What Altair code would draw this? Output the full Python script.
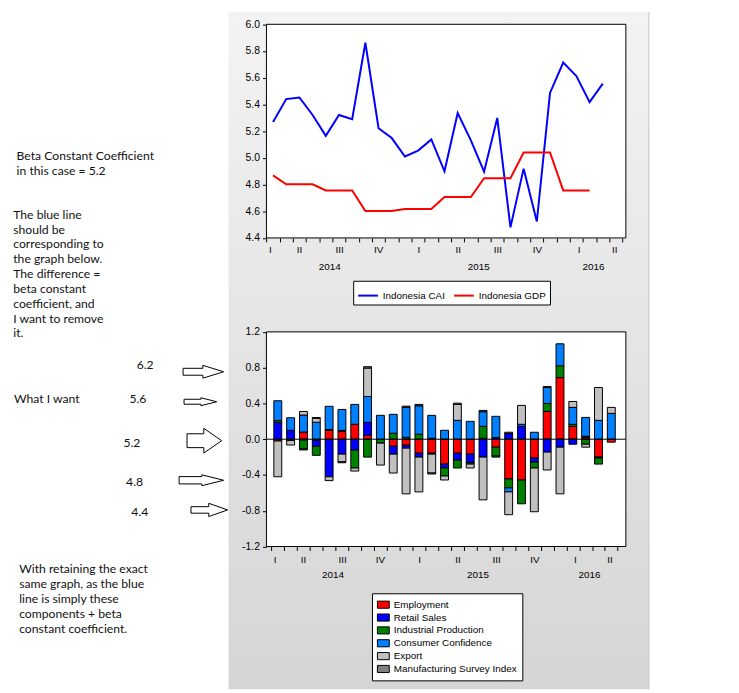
import altair as alt
import pandas as pd

# ---------------- data ----------------
# month index 0 = Feb 2014 ... 26 = Apr 2016
cai = [5.269, 5.440, 5.452, 5.321, 5.165, 5.321, 5.289, 5.862, 5.222, 5.148, 5.010, 5.054, 5.138,
       4.899, 5.336, 5.131, 4.896, 5.299, 4.479, 4.919, 4.523, 5.486, 5.714, 5.612, 5.417, 5.556]
gdp = [4.869, 4.802, 4.802, 4.802, 4.756, 4.756, 4.756, 4.602, 4.602, 4.602, 4.617, 4.617, 4.617,
       4.706, 4.706, 4.706, 4.847, 4.847, 4.847, 5.040, 5.040, 5.040, 4.756, 4.756, 4.756]

components = ["Employment", "Retail Sales", "Industrial Production",
              "Consumer Confidence", "Export", "Manufacturing Survey Index"]
comp_colors = ["#FF0000", "#0000FF", "#008000", "#0080FF", "#C0C0C0", "#808080"]

employment = [-0.02, -0.015, 0.08, -0.015, 0.10, 0.089, 0.167, 0.044, 0.0, -0.078, -0.067, -0.156, -0.156,
              -0.278, -0.156, -0.167, 0.011, -0.089, -0.444, -0.456, -0.211, 0.311, 0.689, 0.144, 0.022, -0.20, -0.033]
retail = [0.19, 0.10, -0.01, -0.065, -0.42, -0.167, -0.122, 0.145, 0.0, -0.089, -0.033, -0.044, -0.011,
          -0.044, -0.077, -0.092, -0.20, 0.02, 0.063, 0.144, -0.045, -0.144, -0.089, -0.056, 0.011, -0.011, 0.0]
industrial = [0.02, 0.0, -0.10, -0.10, 0.008, 0.009, -0.20, -0.20, -0.044, 0.067, 0.022, 0.056, 0.011,
              -0.089, -0.089, -0.019, 0.133, -0.10, -0.10, -0.266, -0.066, 0.089, 0.133, 0.023, -0.056, -0.067, 0.0]
confidence = [0.22, 0.14, 0.19, 0.19, 0.26, 0.235, 0.222, 0.289, 0.267, 0.211, 0.334, 0.318, 0.256,
              0.10, 0.211, 0.20, 0.163, 0.236, -0.045, 0.023, 0.078, 0.178, 0.245, 0.189, 0.211, 0.211, 0.289]
export = [-0.40, -0.05, 0.04, 0.045, -0.043, -0.085, -0.034, 0.318, -0.245, -0.211, -0.511, -0.389, -0.211,
          -0.045, 0.178, -0.044, -0.478, 0.0, -0.255, 0.211, -0.489, -0.20, -0.522, 0.066, -0.033, 0.367, 0.067]
manufacturing = [0.0, 0.0, -0.01, 0.008, 0.0, -0.011, 0.0, 0.015, 0.0, 0.0, 0.014, 0.015, -0.011,
                 0.0, 0.014, 0.0, 0.015, -0.011, 0.015, 0.0, 0.0, 0.011, 0.0, 0.0, 0.0, 0.0, 0.0]

quarter_labels = ["I", "II", "III", "IV", "I", "II", "III", "IV", "I", "II"]
quarter_pos = [-0.2, 2.0, 5.05, 8.0, 11.05, 14.05, 17.05, 20.05, 23.2, 25.9]
year_labels = ["2014", "2015", "2016"]
year_pos = [4.3, 15.6, 24.3]
month_ticks = [-0.5 + k for k in range(28)]
top_y_ticks = [4.4, 4.6, 4.8, 5.0, 5.2, 5.4, 5.6, 5.8, 6.0]
bot_y_ticks = [-1.2, -0.8, -0.4, 0.0, 0.4, 0.8, 1.2]

# ---------------- tables ----------------
line_rows = []
for i, v in enumerate(cai):
    line_rows.append({"i": i, "v": v, "series": "Indonesia CAI"})
for i, v in enumerate(gdp):
    line_rows.append({"i": i, "v": v, "series": "Indonesia GDP"})
lines_df = pd.DataFrame(line_rows)

series_vals = [employment, retail, industrial, confidence, export, manufacturing]
bar_rows = []
for k, (name, vals) in enumerate(zip(components, series_vals)):
    for i, v in enumerate(vals):
        if v != 0:
            bar_rows.append({"i": i, "value": v, "component": name, "k": k})
bars_df = pd.DataFrame(bar_rows)

q_df = pd.DataFrame({"i": quarter_pos, "label": quarter_labels})
y_df = pd.DataFrame({"i": year_pos, "label": year_labels})
one = pd.DataFrame({"a": [0]})

# ---------------- layout (chart pixels; page = chart + 8) ----------------
W, H = 731, 685
PX0, PX1 = 261.3, 624.7
TOP_Y0, TOP_Y1 = 12.7, 228.7
BOT_Y0, BOT_Y1 = 323.7, 540.7
FONT = "Liberation Sans"
NOTE_FONT = "Lato"

xscale = alt.Scale(domain=[-0.5, 26.75], range=[PX0, PX1], nice=False, zero=False)
top_yscale = alt.Scale(domain=[4.4, 6.0], range=[TOP_Y1, TOP_Y0], nice=False, zero=False)
bot_yscale = alt.Scale(domain=[-1.2, 1.2], range=[BOT_Y1, BOT_Y0], nice=False, zero=False)


def x_axis(offset):
    return alt.Axis(orient="bottom", offset=offset, values=month_ticks, labels=False,
                    tickSize=4, tickColor="black", domain=False, grid=False,
                    title=None, zindex=1)


def y_axis(values, expr):
    return alt.Axis(orient="left", offset=-PX0, values=values, labelExpr=expr,
                    tickSize=4, tickColor="black", domain=False, grid=False,
                    labelFont=FONT, labelFontSize=10.5, labelColor="black",
                    labelPadding=3, labelFlush=False, labelOverlap=False,
                    title=None, zindex=1)


top_x = alt.X("i:Q", scale=xscale, axis=x_axis(TOP_Y1 - H))
bot_x = alt.X("i:Q", scale=xscale, axis=x_axis(BOT_Y1 - H))
lbl_expr = "datum.value < 0 ? '-' + format(-datum.value, '.1f') : format(datum.value, '.1f')"

# background panel
panel = alt.Chart(one).mark_rect(
    fill=alt.Gradient(gradient="linear",
                      stops=[alt.GradientStop(color="#F3F3F3", offset=0),
                             alt.GradientStop(color="#D5D5D5", offset=1)],
                      x1=0, x2=0, y1=0, y2=1),
    strokeWidth=0,
).encode(x=alt.value(223), x2=alt.value(648), y=alt.value(0), y2=alt.value(H))
panel_edge = alt.Chart(one).mark_rule(color="#C4C4C4", strokeWidth=1).encode(
    x=alt.value(648), y=alt.value(0), y2=alt.value(H))


def frame(y0, y1):
    return alt.Chart(one).mark_rect(fill="white", stroke="black", strokeWidth=1).encode(
        x=alt.value(PX0), x2=alt.value(PX1), y=alt.value(y0), y2=alt.value(y1))


# ---------------- top chart ----------------
top_lines = alt.Chart(lines_df).mark_line(strokeWidth=2).encode(
    x=top_x,
    y=alt.Y("v:Q", scale=top_yscale, axis=y_axis(top_y_ticks, lbl_expr)),
    color=alt.Color("series:N",
                    scale=alt.Scale(domain=["Indonesia CAI", "Indonesia GDP"],
                                    range=["#0000FF", "#FF0000"]),
                    legend=alt.Legend(orient="none", legendX=349, legendY=272,
                                      direction="horizontal", title=None,
                                      fillColor="white", strokeColor="black",
                                      padding=4, labelFont=FONT, labelFontSize=10,
                                      labelColor="black", symbolType="stroke",
                                      symbolStrokeWidth=2, symbolSize=400,
                                      columnPadding=5, labelLimit=300)),
)
top_q = alt.Chart(q_df).mark_text(font=FONT, fontSize=10, color="black", baseline="middle").encode(
    x=top_x, y=alt.value(241), text="label:N")
top_yr = alt.Chart(y_df).mark_text(font=FONT, fontSize=10, color="black", baseline="middle").encode(
    x=top_x, y=alt.value(258), text="label:N")
top = alt.layer(top_lines, top_q, top_yr)

# ---------------- bottom chart ----------------
bars = alt.Chart(bars_df).mark_bar(size=8, stroke="black", strokeWidth=1).encode(
    x=bot_x,
    y=alt.Y("value:Q", stack="zero", scale=bot_yscale, axis=y_axis(bot_y_ticks, lbl_expr)),
    color=alt.Color("component:N",
                    scale=alt.Scale(domain=components, range=comp_colors),
                    legend=alt.Legend(orient="none", legendX=368, legendY=588,
                                      direction="vertical", title=None,
                                      fillColor="white", strokeColor="black",
                                      padding=5, labelFont=FONT, labelFontSize=10,
                                      labelColor="black",
                                      symbolType="M-1,-0.6H1V0.6H-1Z", symbolSize=144,
                                      symbolStrokeColor="black", symbolStrokeWidth=1,
                                      symbolOpacity=1, rowPadding=0, labelLimit=300)),
    order=alt.Order("k:Q"),
)
zero_rule = alt.Chart(pd.DataFrame({"value": [0.0]})).mark_rule(color="black", strokeWidth=1).encode(
    x=alt.value(PX0), x2=alt.value(PX1),
    y=alt.Y("value:Q", scale=bot_yscale, axis=y_axis(bot_y_ticks, lbl_expr)))
bot_q = alt.Chart(q_df).mark_text(font=FONT, fontSize=10, color="black", baseline="middle").encode(
    x=bot_x, y=alt.value(554), text="label:N")
bot_yr = alt.Chart(y_df).mark_text(font=FONT, fontSize=10, color="black", baseline="middle").encode(
    x=bot_x, y=alt.value(570), text="label:N")
bottom = alt.layer(bars, zero_rule, bot_q, bot_yr)


# ---------------- notes and arrows ----------------
def note(text, x, y, align="left"):
    return alt.Chart(one).mark_text(text=text, lineBreak="\n", lineHeight=15, font=NOTE_FONT,
                                    fontSize=12.3, color="#111111", align=align,
                                    baseline="middle").encode(x=alt.value(x), y=alt.value(y))


def arrow(tail, tip, head_start, cy, bh, hh):
    hs = head_start - tail
    ln = tip - tail
    path = (f"M0,{-bh}L{hs},{-bh}L{hs},{-hh}L{ln},0L{hs},{hh}L{hs},{bh}L0,{bh}Z")
    return alt.Chart(one).mark_point(shape=path, size=4, filled=False, color="black",
                                     strokeWidth=1, opacity=1).encode(
        x=alt.value(tail - 8), y=alt.value(cy - 8))


notes = [
    note("Beta Constant Coefficient\nin this case = 5.2", 8.7, 146.3),
    note("The blue line\nshould be\ncorresponding to\nthe graph below.\nThe difference =\n"
         "beta constant\ncoefficient, and\nI want to remove\nit.", 5.3, 205.3),
    note("6.2", 138.7, 357.7, "center"),
    note("What I want", 6, 392),
    note("5.6", 131.3, 392, "center"),
    note("5.2", 125.3, 436.3, "center"),
    note("4.8", 128, 475.3, "center"),
    note("4.4", 133.3, 506.3, "center"),
    note("With retaining the exact\nsame graph, as the blue\nline is simply these\n"
         "components + beta\nconstant coefficient.", 11.3, 563.7),
]
arrows = [
    arrow(185, 226, 205, 372, 3.5, 6.5),
    arrow(186, 219, 203, 402.3, 2.5, 4),
    arrow(189, 224, 206, 441.7, 7, 12.5),
    arrow(181, 226, 204, 481.7, 3.7, 5.5),
    arrow(193, 230, 211, 511.7, 3.3, 6.7),
]

chart = alt.layer(
    panel, panel_edge, frame(TOP_Y0, TOP_Y1), frame(BOT_Y0, BOT_Y1),
    *notes, *arrows, top, bottom,
).resolve_scale(
    x="independent", y="independent", color="independent"
).properties(
    width=W, height=H, padding=0, background="white",
    autosize=alt.AutoSizeParams(type="none"),
).configure_view(strokeWidth=0)

chart.save("out.html", embed_options={"renderer": "svg", "actions": False})
